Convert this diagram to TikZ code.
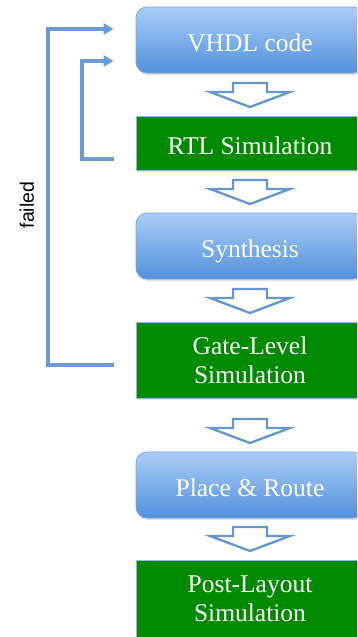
\documentclass[tikz,border=0pt]{standalone}
\usepackage{fontspec}
\setmainfont{Liberation Serif}
\newfontfamily\labelfont{Liberation Sans}
\usetikzlibrary{arrows.meta,shadows}
\definecolor{bluetop}{HTML}{A9CDF8}
\definecolor{bluebot}{HTML}{5390DB}
\definecolor{blueedge}{HTML}{7AA6DA}
\definecolor{boxgreen}{HTML}{008A00}
\definecolor{linkblue}{HTML}{6B9BD3}
\definecolor{arrowblue}{HTML}{6696CF}
\tikzset{
  box/.style={minimum width=228pt, inner sep=0pt, align=center,
    font=\fontsize{25.5}{29}\selectfont, text=white,
    drop shadow={opacity=0.25, shadow xshift=1pt, shadow yshift=-2pt}},
  oneline/.style={text height=22.5pt, text depth=0pt},
  bluebox/.style={box, rounded corners=11pt, top color=bluetop, bottom color=bluebot,
    draw=blueedge, line width=0.8pt},
  greenbox/.style={box, fill=boxgreen, draw=linkblue!70, line width=0.8pt},
  feedback/.style={draw=linkblue, line width=3.3pt, -{Triangle[length=10pt,width=11pt]}},
  arrowline/.style={draw=arrowblue, line width=2.3pt, fill=white, line join=miter},
  hollow/.pic={\draw[arrowline] (-17,0) -- (17,0) -- (17,9) -- (40,9) -- (0,24) -- (-40,9) -- (-17,9) -- cycle;}
}
\begin{document}
\begin{tikzpicture}[x=1pt,y=-1pt]
\useasboundingbox (0,0) rectangle (357,637);
\clip (0,0) rectangle (357,637);
\node[bluebox, oneline, minimum height=66pt] (vhdl) at (250,40) {VHDL code};
\node[greenbox, oneline, minimum height=54pt] (rtl) at (250,143) {RTL Simulation};
\node[bluebox, oneline, minimum height=66pt] (syn) at (250,246) {Synthesis};
\node[greenbox, minimum height=76pt] (gate) at (250,360) {Gate-Level\\Simulation};
\node[bluebox, oneline, minimum height=66pt] (pr) at (250,485) {Place \& Route};
\node[greenbox, minimum height=78pt] (post) at (250,599) {Post-Layout\\Simulation};

\pic at (250,83) {hollow};
\pic at (250,180) {hollow};
\pic at (250,289) {hollow};
\pic at (250,419) {hollow};
\pic at (250,527) {hollow};

\coordinate (g0) at ([xshift=-22pt,yshift=-5pt]gate.west);
\coordinate (g1) at ([xshift=-22pt,yshift=11pt]vhdl.west);
\coordinate (r0) at ([xshift=-22pt,yshift=-16pt]rtl.west);
\coordinate (r1) at ([xshift=-22pt,yshift=-21pt]vhdl.west);
\draw[feedback] (g0) -- (48,365) -- (48,29) -- (g1);
\draw[feedback] (r0) -- (82,159) -- (82,61) -- (r1);

\node[rotate=90, font=\labelfont\fontsize{19.5}{22}\selectfont] (failed) at (27,205) {failed};
\end{tikzpicture}
\end{document}
